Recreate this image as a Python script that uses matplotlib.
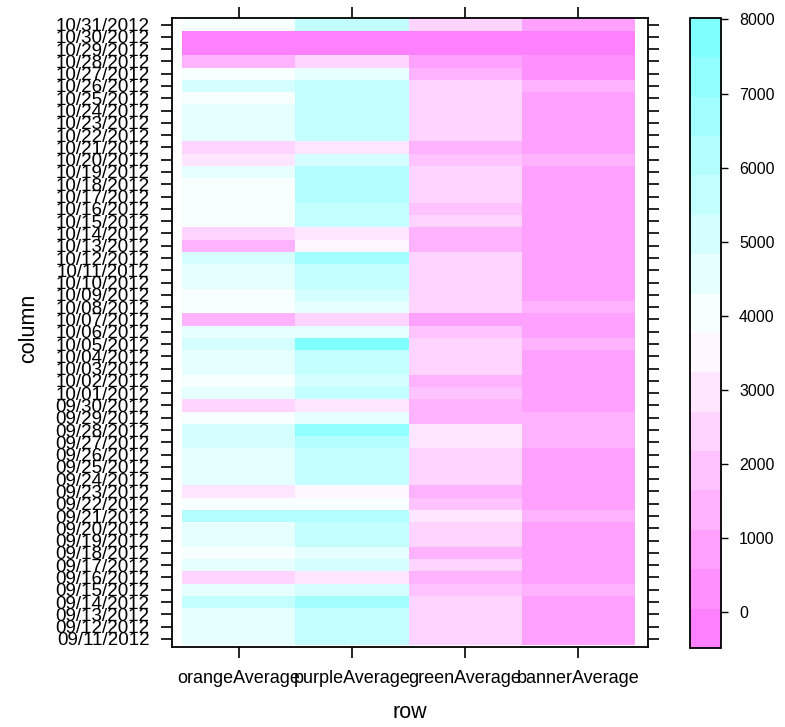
import matplotlib
matplotlib.use("Agg")
import matplotlib.pyplot as plt
import numpy as np
import pandas as pd
from matplotlib.colors import LinearSegmentedColormap, ListedColormap, BoundaryNorm

plt.rcParams['font.family'] = ['Liberation Sans', 'DejaVu Sans']

# row categories (x axis) and dates (y axis, bottom to top)
series = ['orangeAverage', 'purpleAverage', 'greenAverage', 'bannerAverage']
dates = [d.strftime('%m/%d/%Y') for d in pd.date_range('2012-09-11', '2012-10-31')]

# values per date, 09/11/2012 .. 10/31/2012
orange = [4520, 4610, 4480, 5620, 4700, 2450, 4550, 4050, 4620, 4500,
          6050, 4100, 2980, 4580, 4490, 4640, 5150, 5050, 3980, 2400,
          4650, 4000, 4560, 4530, 5250, 4600, 1560, 3950, 4080, 4580,
          4500, 5200, 1600, 2500, 4030, 3990, 4060, 4010, 4450, 3050,
          2350, 4520, 4600, 4480, 4080, 5180, 4100, 1450, -380, -320,
          4000]
purple = [5610, 5700, 5550, 6750, 5150, 2900, 5100, 4560, 5650, 5580,
          6200, 4150, 3550, 5680, 5520, 5600, 6150, 7250, 4500, 2950,
          5700, 5200, 5640, 5580, 8020, 4480, 2500, 4620, 5080, 5750,
          5800, 6800, 3600, 2850, 5550, 5620, 6250, 6300, 6100, 5150,
          3000, 5600, 5650, 5700, 5580, 5620, 4700, 2400, -420, -260,
          5680]
green = [2420, 2500, 2380, 2550, 1950, 1350, 2300, 1600, 2450, 2520,
         2900, 1850, 1300, 2480, 2400, 2530, 2850, 2950, 1420, 1300,
         2050, 1550, 2440, 2500, 2380, 1800, 950, 2350, 2420, 2480,
         2450, 2400, 1400, 1350, 2520, 1900, 2460, 2410, 2380, 1750,
         1300, 2450, 2500, 2420, 2480, 2400, 1450, 900, -350, -300,
         2450]
banner = [820, 850, 800, 880, 1200, 760, 830, 790, 860, 810,
          1230, 780, 750, 840, 800, 870, 1180, 1220, 1150, 760,
          820, 790, 850, 830, 1190, 800, 720, 1170, 860, 840,
          810, 880, 770, 790, 850, 830, 860, 820, 870, 1210,
          800, 840, 860, 830, 850, 1160, 450, 300, -480, -450,
          860]

z = np.column_stack([orange, purple, green, banner])

# lattice-style levels: 16 equal intervals over the data range
levels = np.linspace(z.min(), z.max(), 17)
ramp = LinearSegmentedColormap.from_list('cm', ['#FF80FF', '#FFFFFF', '#80FFFF'])
cmap = ListedColormap([ramp(i / 15) for i in range(16)])
norm = BoundaryNorm(levels, cmap.N)

fig = plt.figure(figsize=(7.85, 7.27), dpi=100)
ax = fig.add_axes([0.2187, 0.1105, 0.6064, 0.8652])
cax = fig.add_axes([0.879, 0.1087, 0.0395, 0.8666])

xe = np.arange(len(series) + 1) + 0.5
ye = np.arange(len(dates) + 1) - 0.5
mesh = ax.pcolormesh(xe, ye, z, cmap=cmap, norm=norm, edgecolors='none', antialiased=False)

ax.set_xlim(0.408, 4.613)
ax.set_ylim(-0.63, 50.56)
ax.set_xticks(np.arange(1, len(series) + 1))
ax.set_xticklabels(series, fontsize=13)
ax.set_yticks(np.arange(len(dates)))
ax.set_yticklabels(dates, fontsize=13.5)
ax.tick_params(axis='x', direction='out', length=8, width=1.2, top=True, pad=9)
ax.tick_params(axis='y', direction='out', length=8, width=1.2, right=True, pad=8)
for s in ax.spines.values():
    s.set_linewidth(1.3)

fig.text(29 / 785, 1 - 328 / 727, 'column', rotation=90, ha='center', va='center', fontsize=15.5)
fig.text(410 / 785, 1 - 712 / 727, 'row', ha='center', va='center', fontsize=15.5)

cb = fig.colorbar(mesh, cax=cax, ticks=np.arange(0, 8001, 1000))
cb.minorticks_off()
cb.outline.set_linewidth(1.3)
cax.tick_params(direction='out', length=5, width=1.0, labelsize=11.5, pad=8)

plt.savefig('out.png', dpi=100)
